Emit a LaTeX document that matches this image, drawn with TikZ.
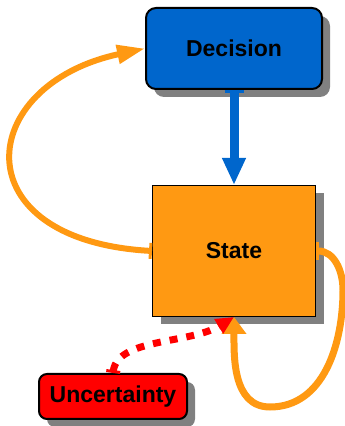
\documentclass[tikz,border=0pt]{standalone}
\usepackage{fontspec}
\setmainfont{Liberation Sans}
\usetikzlibrary{arrows.meta}
\usetikzlibrary{shadows}
\usetikzlibrary{positioning}

\definecolor{decblue}{HTML}{0066CC}
\definecolor{stateorange}{HTML}{FF9912}
\definecolor{shadowgray}{HTML}{808080}

\tikzset{
  box/.style={draw=black, text=black, font=\bfseries\fontsize{23}{27}\selectfont,
    inner sep=0pt, drop shadow={shadow xshift=8pt, shadow yshift=-8pt,
    fill=shadowgray, opacity=1}},
  orangearrow/.style={draw=stateorange, line width=6pt},
}

\begin{document}
\begin{tikzpicture}[x=1pt, y=1pt]
  \useasboundingbox (0, 0) rectangle (345, 426);

  % boxes
  \node[box, fill=decblue, line width=2pt, rounded corners=10pt,
    minimum width=176pt, minimum height=81pt] (decision) at (234, 377.5) {Decision};
  \node[box, fill=stateorange, line width=1pt,
    minimum width=163pt, minimum height=131pt] (state) at (234, 175) {State};
  \node[box, fill=red, line width=2pt, rounded corners=8pt,
    minimum width=148pt, minimum height=45pt] (uncertainty) at (113, 29.5) {Uncertainty};

  % decision -> state
  \draw[decblue, line width=9pt, {Bar[width=19pt, line width=3pt]}-{Triangle[length=27pt, width=22pt]}]
    (decision.south) -- (state.north);

  % state -> decision
  \draw[orangearrow, {Bar[width=16pt, line width=3pt]}-{Triangle[length=28pt, width=18pt]}]
    (state.west) .. controls (-40, 186) and (-25, 341) .. (decision.west);

  % state -> state
  \draw[orangearrow, line width=7pt, {Bar[width=18pt, line width=3pt]}-{Triangle[length=17pt, width=24pt]}]
    (state.east) to[out=0, in=90] (343, 136) to[out=-90, in=0] (270, 19)
    to[out=180, in=-90] (state.south);

  % uncertainty -> state
  \draw[red, line width=7pt, dash pattern=on 8pt off 9pt,
    {Bar[width=14pt, line width=3pt]}-{Triangle[length=18pt, width=16pt]}]
    (uncertainty.north) .. controls (118, 88) and (190, 82) .. (state.south);
\end{tikzpicture}
\end{document}
